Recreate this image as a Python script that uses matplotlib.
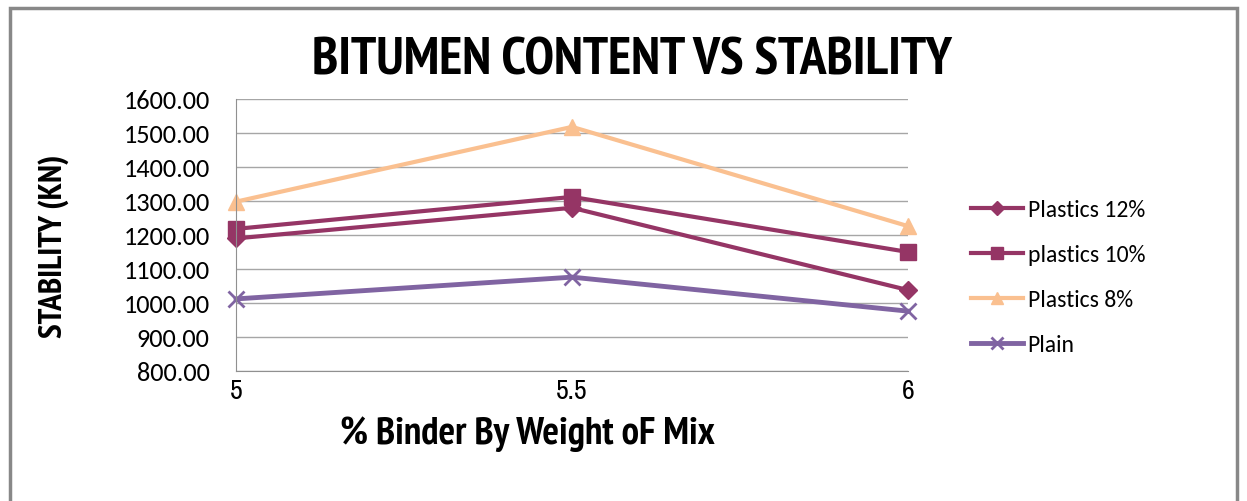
import matplotlib.pyplot as plt
from matplotlib.patches import Rectangle

# binder content (% by weight of mix)
binder = [5, 5.5, 6]

# stability values (KN)
plastics_12 = [1190, 1280, 1038]
plastics_10 = [1218, 1312, 1150]
plastics_8 = [1298, 1518, 1226]
plain = [1012, 1076, 976]

yticks = [800, 900, 1000, 1100, 1200, 1300, 1400, 1500, 1600]

NARROW = ['Archivo Narrow', 'DejaVu Sans']
NARROW_BOLD = ['PT Sans Narrow', 'Roboto Condensed', 'DejaVu Sans']
BODY = ['Carlito', 'DejaVu Sans']


def main():
    fig = plt.figure(figsize=(12.47, 5.02), dpi=100)
    fig.patches.append(Rectangle((0.008, -0.1), 0.984, 1.082, transform=fig.transFigure,
                                 fill=False, edgecolor='#888888', linewidth=2.5))

    ax = fig.add_axes([0.1893, 0.259, 0.5389, 0.5418])

    ax.plot(binder, plastics_12, color='#953565', lw=3, marker='D', ms=9,
            label='Plastics 12%', clip_on=False)
    ax.plot(binder, plastics_10, color='#953565', lw=3, marker='s', ms=11,
            label='plastics 10%', clip_on=False)
    ax.plot(binder, plastics_8, color='#FAC090', lw=3, marker='^', ms=12,
            label='Plastics 8%', clip_on=False)
    ax.plot(binder, plain, color='#8064A2', lw=3.5, marker='x', ms=12, mew=2,
            label='Plain', clip_on=False)

    ax.set_xlim(5, 6)
    ax.set_ylim(800, 1600)
    ax.set_yticks(yticks)
    ax.set_yticklabels(['%.2f' % v for v in yticks], family=BODY, fontsize=19)
    ax.set_xticks(binder)
    ax.set_xticklabels(['5', '5.5', '6'], family=NARROW, fontsize=20)
    ax.tick_params(axis='x', length=0, pad=5)
    ax.tick_params(axis='y', length=0, pad=19)
    ax.grid(axis='y', color='#a6a6a6', lw=1)
    ax.set_axisbelow(True)
    for s in ['top', 'right']:
        ax.spines[s].set_visible(False)
    for s in ['left', 'bottom']:
        ax.spines[s].set_color('#909090')

    fig.text(0.507, 0.878, 'BITUMEN CONTENT VS STABILITY', ha='center', va='center',
             family=NARROW_BOLD, fontsize=38.5, fontweight='bold')
    fig.text(0.423, 0.135, '% Binder By Weight oF Mix', ha='center', va='center',
             family=NARROW_BOLD, fontsize=28, fontweight='bold')
    fig.text(0.043, 0.51, 'STABILITY (KN)', ha='center', va='center', rotation=90,
             family=NARROW_BOLD, fontsize=24, fontweight='bold')

    fig.legend(loc='center left', bbox_to_anchor=(0.7616, 0.446), frameon=False,
               prop={'family': BODY, 'size': 17}, handlelength=2.2,
               labelspacing=1.02, handletextpad=0.2, markerscale=0.75)

    fig.savefig('out.png', dpi=100)


if __name__ == "__main__":
    main()
